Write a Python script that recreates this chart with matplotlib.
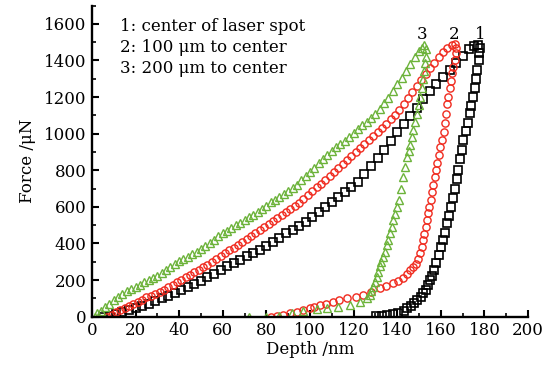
import numpy as np
import matplotlib.pyplot as plt
from matplotlib.ticker import MultipleLocator

plt.rcParams['font.family'] = 'DejaVu Serif'

# curve 1: center of laser spot (black squares)
depth1_load = [5, 8, 11, 14, 17, 20, 23, 26, 29, 32, 35, 38, 41, 44, 47, 50, 53, 56, 59, 62,
               65, 68, 71, 74, 77, 80, 83, 86, 89, 92, 95, 98, 101, 104, 107, 110, 113, 116,
               119, 122, 125, 128, 131, 134, 137, 140, 143, 146, 149, 152, 155, 158, 161, 164,
               167, 170, 173, 175, 177]
force1_load = [0, 6, 14, 24, 36, 48, 60, 72, 86, 100, 115, 130, 145, 160, 178, 195, 215, 236, 256, 275,
               294, 312, 330, 346, 364, 388, 410, 432, 455, 475, 495, 520, 546, 574, 600, 625, 652, 680,
               708, 738, 780, 825, 868, 910, 960, 1010, 1055, 1095, 1140, 1190, 1232, 1272, 1310, 1348,
               1385, 1425, 1462, 1478, 1485]
depth1_unload = [178, 177.5, 177.3, 176.6, 176, 175.5, 174.8, 174, 173.4, 172.5, 171.5, 170.3, 169.5,
                 168.8, 168, 167.3, 166.5, 165.6, 164.6, 163.6, 162.7, 161.9, 161, 160, 159, 158, 157,
                 156, 155, 154, 153, 152, 150.7, 149.3, 147.8, 146.2, 144.6, 143, 140.5, 138, 135.5, 133, 130.5]
force1_unload = [1470, 1440, 1400, 1350, 1300, 1250, 1200, 1150, 1111, 1060, 1015, 966, 910,
                 860, 800, 750, 700, 650, 600, 550, 510, 460, 420, 380, 335, 292, 255,
                 225, 200, 172, 148, 128, 110, 92, 75, 60, 45, 32, 22, 16, 9, 4, 2]

# curve 2: 100 um to center (red circles)
depth2_load = [7, 9, 11, 13, 15, 17, 19, 21, 23, 25, 27, 29, 31, 33, 35, 37, 39, 41, 43, 45, 47, 49,
               51, 53, 55, 57, 59, 61, 63, 65, 67, 69, 71, 73, 75, 77, 79, 81, 83, 85, 87, 89, 91, 93,
               95, 97, 99, 101, 103, 105, 107, 109, 111, 113, 115, 117, 119, 121, 123, 125, 127, 129,
               131, 133, 135, 137, 139, 141, 143, 145, 147, 149, 151, 153, 155, 157, 159, 161, 163,
               165, 166.5]
force2_load = [0, 12, 26, 38, 50, 60, 72, 83, 94, 105, 115, 125, 136, 148, 160, 175, 190, 203, 215, 228,
               242, 256, 270, 285, 300, 315, 330, 346, 362, 378, 394, 410, 426, 442, 458, 474, 490, 506,
               522, 538, 554, 570, 588, 605, 622, 643, 664, 685, 706, 727, 748, 769, 790, 811, 832, 856,
               878, 900, 922, 944, 966, 988, 1010, 1033, 1055, 1078, 1100, 1128, 1160, 1195, 1230, 1262,
               1295, 1325, 1356, 1388, 1418, 1445, 1468, 1485, 1492]
depth2_unload = [167, 166.8, 166.5, 165.8, 165, 164.5, 164, 163.4, 163, 162.5, 162, 161.3, 160.5, 159.6,
                 159, 158.3, 157.6, 157.2, 156.6, 156, 155.3, 154.6, 154, 153.5, 153, 152.4, 152, 151.3,
                 150.5, 149.5, 148.5, 147.4, 146, 144.5, 142.8, 140.5, 138.2, 135, 132.1, 128, 124.4,
                 121, 116.8, 113.5, 110.7, 107.5, 104.6, 102, 100, 97, 93.9, 91, 87.8, 85, 82]
force2_unload = [1470, 1440, 1403, 1365, 1330, 1290, 1250, 1202, 1160, 1110, 1057, 1010, 965, 929,
                 885, 840, 800, 765, 720, 680, 640, 600, 565, 528, 490, 450, 419, 380,
                 346, 315, 290, 273, 255, 232, 210, 197, 182, 168, 155, 137, 119,
                 110, 100, 90, 82, 72, 64, 55, 46, 36, 27, 18, 9, 3, 0]

# curve 3: 200 um to center (green triangles)
depth3_load = [1.5, 2.5, 4, 6, 8, 10, 12, 14, 16, 18, 20, 22, 24, 26, 28, 30, 32, 34, 36, 38, 40, 42,
               44, 46, 48, 50, 52, 54, 56, 58, 60, 62, 64, 66, 68, 70, 72, 74, 76, 78, 80, 82, 84, 86,
               88, 90, 92, 94, 96, 98, 100, 102, 104, 106, 108, 110, 112, 114, 116, 118, 120, 122, 124,
               126, 128, 130, 132, 134, 136, 138, 140, 142, 144, 146, 148, 150, 151.5, 152.5]
force3_load = [0, 18, 32, 52, 72, 92, 110, 125, 138, 150, 162, 175, 187, 198, 209, 222, 238, 255, 272,
               290, 306, 318, 328, 340, 353, 368, 384, 402, 420, 440, 456, 470, 485, 500, 514, 528, 543,
               558, 574, 590, 607, 624, 640, 656, 672, 688, 705, 722, 748, 770, 792, 815, 838, 860, 882,
               905, 925, 945, 962, 984, 1005, 1025, 1045, 1065, 1085, 1105, 1135, 1165, 1195, 1232, 1270,
               1306, 1342, 1380, 1418, 1450, 1470, 1485]
depth3_unload = [153, 153, 152.8, 152.3, 151.8, 151.2, 150.5, 149.8, 149, 148.2, 147.4, 146.7, 146,
                 145.2, 144.4, 143.6, 142.8, 141.8, 140.8, 140, 139, 138.2, 137.5, 136.7, 135.9, 135.2,
                 134.4, 133.5, 132.8, 132.1, 131.4, 130.6, 129.8, 129, 128.2, 127.5, 126, 123, 118.3,
                 113, 107.7, 103, 97, 91.6, 86, 80, 72]
force3_unload = [1460, 1420, 1385, 1340, 1300, 1250, 1202, 1155, 1110, 1065, 1020, 980, 940,
                 905, 874, 820, 765, 700, 640, 600, 560, 528, 490, 455, 419, 390,
                 355, 325, 300, 275, 245, 215, 190, 165, 140, 120, 100, 82, 64,
                 55, 46, 40, 33, 19, 6, 1, 0]

fig = plt.figure(figsize=(5.57, 3.67), dpi=100)
ax = fig.add_axes([0.165, 0.137, 0.783, 0.848])

sq = dict(marker='s', ls='none', mfc='none', mec='black', ms=5.2, mew=1.2)
ci = dict(marker='o', ls='none', mfc='none', mec='#f02a1e', ms=5.2, mew=1.0)
tr = dict(marker='^', ls='none', mfc='none', mec='#6cb33a', ms=6.0, mew=1.0)

ax.plot(depth1_load, force1_load, **sq)
ax.plot(depth1_unload, force1_unload, **sq)
ax.plot(depth2_load, force2_load, **ci)
ax.plot(depth2_unload, force2_unload, **ci)
ax.plot(depth3_load, force3_load, **tr)
ax.plot(depth3_unload, force3_unload, **tr)

ax.set_xlim(0, 200)
ax.set_ylim(0, 1700)
ax.xaxis.set_major_locator(MultipleLocator(20))
ax.xaxis.set_minor_locator(MultipleLocator(10))
ax.yaxis.set_major_locator(MultipleLocator(200))
ax.yaxis.set_minor_locator(MultipleLocator(100))
ax.tick_params(which='major', direction='in', length=5, width=1.5, labelsize=12, pad=4)
ax.tick_params(which='minor', direction='in', length=3, width=1.2)
for s in ['top', 'right']:
    ax.spines[s].set_visible(False)
for s in ['left', 'bottom']:
    ax.spines[s].set_linewidth(1.7)

ax.set_xlabel('Depth /nm', fontsize=12, labelpad=1)
ax.set_ylabel('Force /\u03bcN', fontsize=12, labelpad=6)

ax.text(12.8, 1561, '1: center of laser spot', fontsize=12, va='baseline')
ax.text(12.8, 1446, '2: 100 \u03bcm to center', fontsize=12, va='baseline')
ax.text(12.8, 1331, '3: 200 \u03bcm to center', fontsize=12, va='baseline')

ax.text(151.2, 1516, '3', fontsize=12, ha='center', va='baseline')
ax.text(166.1, 1516, '2', fontsize=12, ha='center', va='baseline')
ax.text(178.0, 1516, '1', fontsize=12, ha='center', va='baseline')

fig.savefig('out.png', dpi=100)
